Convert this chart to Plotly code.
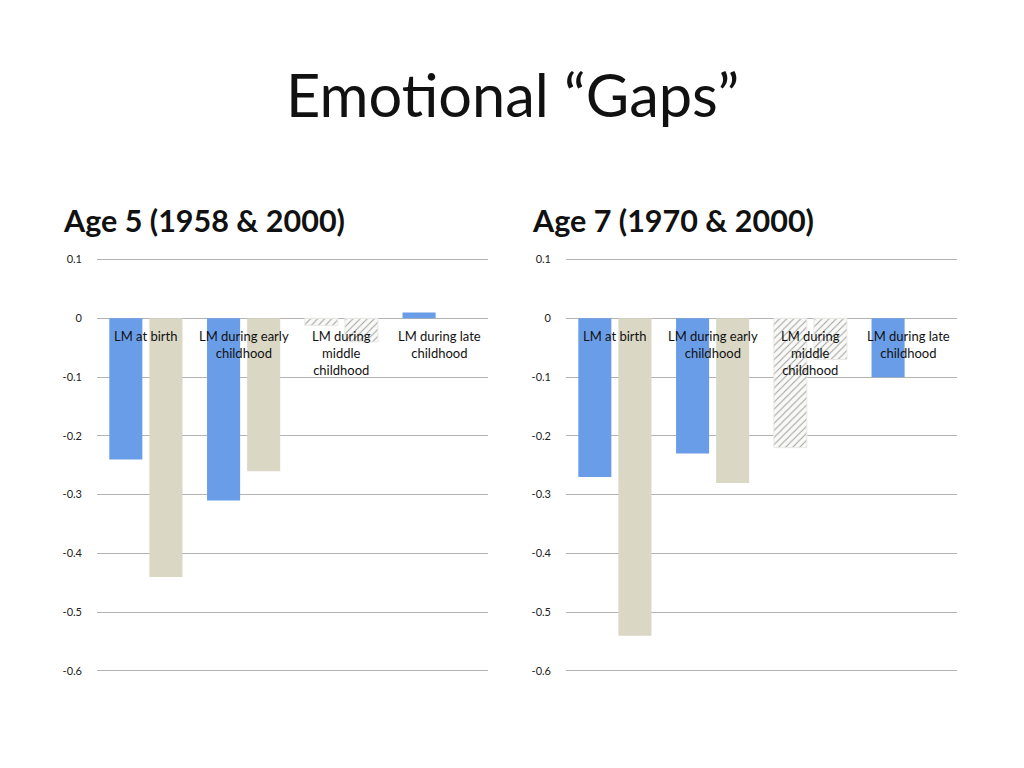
import plotly.graph_objects as go

categories = ["LM at birth", "LM during early childhood", "LM during middle childhood", "LM during late childhood"]
category_labels = ["LM at birth", "LM during early<br>childhood", "LM during<br>middle<br>childhood", "LM during late<br>childhood"]

age5_first = [-0.24, -0.31, -0.012, 0.01]
age5_second = [-0.44, -0.26, -0.04, None]
age7_first = [-0.27, -0.23, -0.22, -0.10]
age7_second = [-0.54, -0.28, -0.07, None]

hatched = [False, False, True, False]

y_ticks = [0.1, 0, -0.1, -0.2, -0.3, -0.4, -0.5, -0.6]
y_tick_labels = ["0.1", "0", "-0.1", "-0.2", "-0.3", "-0.4", "-0.5", "-0.6"]

titles = ["Age 5 (1958 & 2000)", "Age 7 (1970 & 2000)"]

BLUE = "#6a9de8"
BEIGE = "#dad7c4"
HATCH_BG = "#f9f9f7"
HATCH_FG = "#e0e0db"

FONT = "Lato"

fig = go.Figure()

def add_pair(first, second, xa, ya):
    c1 = [HATCH_BG if h else BLUE for h in hatched]
    c2 = [HATCH_BG if h else BEIGE for h in hatched]
    shapes = ["/" if h else "" for h in hatched]
    lines = ["#e8e8e4" if h else "rgba(0,0,0,0)" for h in hatched]
    fig.add_trace(go.Bar(
        x=categories, y=first, xaxis=xa, yaxis=ya,
        marker=dict(color=c1, line=dict(width=1, color=lines),
                    pattern=dict(shape=shapes, fgcolor=HATCH_FG, bgcolor=HATCH_BG, size=5, solidity=0.2)),
        showlegend=False, hoverinfo="skip"))
    fig.add_trace(go.Bar(
        x=categories, y=second, xaxis=xa, yaxis=ya,
        marker=dict(color=c2, line=dict(width=1, color=lines),
                    pattern=dict(shape=shapes, fgcolor=HATCH_FG, bgcolor=HATCH_BG, size=5, solidity=0.2)),
        showlegend=False, hoverinfo="skip"))

add_pair(age5_first, age5_second, "x", "y")
add_pair(age7_first, age7_second, "x2", "y2")

ydom = [1 - 676 / 768, 1 - 255 / 768]
axis_y = dict(range=[-0.605, 0.105], tickvals=y_ticks, ticktext=y_tick_labels,
              showgrid=True, gridcolor="#b3b3b3", gridwidth=1,
              zeroline=True, zerolinecolor="#b3b3b3", zerolinewidth=1,
              showline=False, ticks="", ticklabelstandoff=14,
              tickfont=dict(family=FONT, size=11, color="#222222"), domain=ydom)
axis_x = dict(showticklabels=False, showgrid=False, zeroline=False, showline=False, ticks="")

fig.update_layout(
    width=1024, height=768,
    margin=dict(l=0, r=0, t=0, b=0),
    paper_bgcolor="white", plot_bgcolor="white",
    barmode="group", bargap=0.18, bargroupgap=0.175,
    xaxis=dict(axis_x, domain=[97 / 1024, 488 / 1024]),
    xaxis2=dict(axis_x, domain=[566 / 1024, 957 / 1024]),
    yaxis=dict(axis_y, anchor="x"),
    yaxis2=dict(axis_y, anchor="x2"),
)

annotations = [
    dict(text="Emotional “Gaps”", x=512 / 1024, y=1 - 91 / 768, xref="paper", yref="paper",
         xanchor="center", yanchor="middle", showarrow=False,
         font=dict(family=FONT, size=59.5, color="#111111")),
    dict(text="<b>" + titles[0] + "</b>", x=61 / 1024, y=1 - 218 / 768, xref="paper", yref="paper",
         xanchor="left", yanchor="middle", showarrow=False,
         font=dict(family=FONT, size=30.5, color="#111111")),
    dict(text="<b>" + titles[1] + "</b>", x=530 / 1024, y=1 - 218 / 768, xref="paper", yref="paper",
         xanchor="left", yanchor="middle", showarrow=False,
         font=dict(family=FONT, size=30.5, color="#111111")),
]
for xa, ya in (("x", "y"), ("x2", "y2")):
    for cat, lab in zip(categories, category_labels):
        annotations.append(dict(text=lab, x=cat, y=0, xref=xa, yref=ya, xanchor="center", yanchor="top",
                                yshift=-8, showarrow=False,
                                font=dict(family=FONT, size=13, color="#111111")))
fig.update_layout(annotations=annotations)

fig.write_html("out.html", config={"displayModeBar": False},
               post_script="document.body.style.margin='0';")
